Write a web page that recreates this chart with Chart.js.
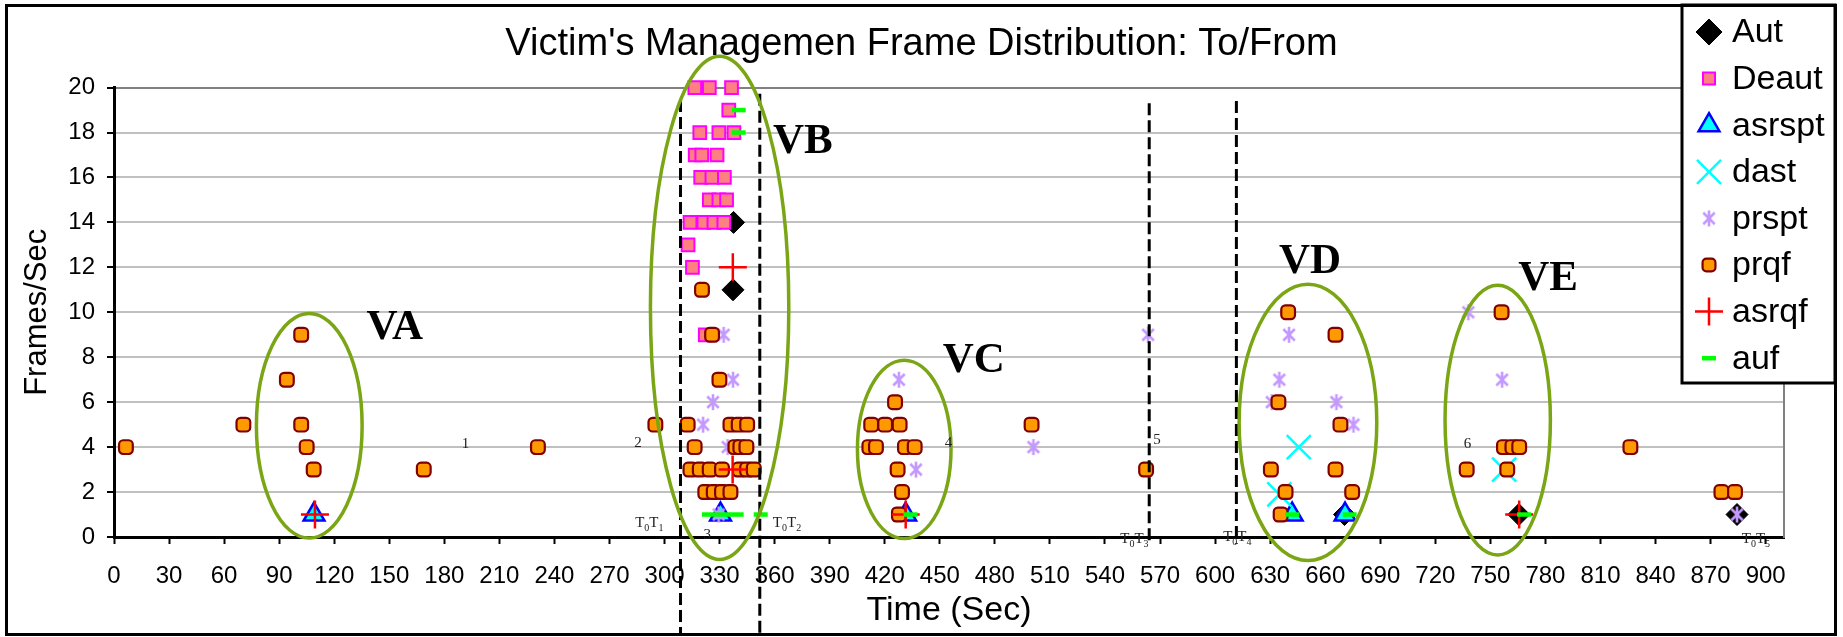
<!DOCTYPE html>
<html>
<head>
<meta charset="utf-8">
<title>Victim's Managemen Frame Distribution: To/From</title>
<script src="https://cdn.jsdelivr.net/npm/chart.js@4.4.1/dist/chart.umd.min.js"></script>
<style>
  html, body { margin: 0; padding: 0; background: #fff; }
  #wrap { width: 1843px; height: 637px; }
</style>
</head>
<body>
<div id="wrap"><canvas id="frames" width="1843" height="637"></canvas></div>
<script>
// ---- values (time in sec, frames per sec) ----
var timeTicks = [0, 30, 60, 90, 120, 150, 180, 210, 240, 270, 300, 330, 360, 390, 420, 450,
                 480, 510, 540, 570, 600, 630, 660, 690, 720, 750, 780, 810, 840, 870, 900];
var rateTicks = [0, 2, 4, 6, 8, 10, 12, 14, 16, 18, 20];

var autTime = [337.6, 337.3, 670.5, 765.5, 884.4];
var autRate = [14, 11, 1, 1, 1];

var deautTime = [316.5, 324.4, 336.5, 335.0, 319.2, 329.6, 337.8, 316.7, 320.3, 328.6, 319.7, 325.8,
                 332.6, 324.4, 329.6, 333.8, 313.9, 321.4, 326.9, 332.3, 312.8, 315.2, 322.2, 338.5];
var deautRate = [20, 20, 20, 19, 18, 18, 18, 17, 17, 17, 16, 16,
                 16, 15, 15, 15, 14, 14, 14, 14, 13, 12, 9, 5];

var asrsptTime = [109, 330.5, 431.4, 642, 670.8];
var asrsptRate = [1, 1, 1, 1, 1];

var dastTime = [645.6, 635, 757.5];
var dastRate = [4, 1.9, 3];

var prsptTime = [332.2, 337.3, 326.4, 321, 334.4, 329.5, 427.7, 437, 501, 563.5,
                 640.3, 635, 630.9, 666.1, 675.4, 738, 756.4, 827.2, 875.9, 884.4];
var prsptRate = [9, 7, 6, 5, 4, 1, 7, 3, 4, 9,
                 9, 7, 6, 6, 5, 10, 7, 4, 2, 1];

var prqfTime = [6.5, 70.5, 94.2, 102, 102, 105, 108.8, 168.8, 231,
                295, 312.6, 335.9, 340.4, 345, 316.4, 338.6, 341.3, 344.6,
                314.1, 319.2, 324.6, 331.3, 341, 345, 348.6, 322.2, 326.8, 331.3, 335.9, 325.9, 329.9, 320.4,
                425.6, 412.6, 420.2, 428.1, 411.6, 415.2, 431, 436.3, 427, 429.4, 427.7, 500, 562.4,
                639.8, 665.6, 634.5, 668.3, 630.4, 665.6, 638.4, 674.7, 635.7,
                756.1, 757.4, 762, 765.7, 737.1, 759.2, 826.3, 875.9, 883.3];
var prqfRate = [4, 5, 7, 9, 5, 4, 3, 3, 4,
                5, 5, 5, 5, 5, 4, 4, 4, 4,
                3, 3, 3, 3, 3, 3, 3, 2, 2, 2, 2, 9, 7, 11,
                6, 5, 5, 5, 4, 4, 4, 4, 3, 2, 1, 5, 3,
                10, 9, 6, 5, 3, 3, 2, 2, 1,
                10, 4, 4, 4, 3, 3, 4, 2, 2];

var asrqfTime = [109.5, 337.2, 337.1, 431.4, 765.7];
var asrqfRate = [1, 12, 3, 1, 1];

var aufTime = [340.4, 340.4, 324.2, 331.9, 339.3, 352.4, 434, 642.1, 673.3, 768.4];
var aufRate = [19, 18, 1, 1, 1, 1, 1, 1, 1, 1];

// circled victim regions (centre, half extents, label spot) in axis units
var areaName  = ['VA', 'VB', 'VC', 'VD', 'VE'];
var areaTime  = [106.4, 330, 430.6, 650.6, 754];
var areaRate  = [4.95, 10.2, 3.9, 5.1, 5.2];
var areaHalfT = [28.8, 37.7, 25.5, 37.5, 28.7];
var areaHalfR = [5.0, 11.2, 3.97, 6.15, 6.0];
var areaLabelTime = [153, 375.4, 468.5, 651.7, 781.5];
var areaLabelRate = [9.3, 17.6, 7.85, 12.25, 11.5];

// dashed phase markers
var phaseTime   = [308.7, 351.9, 564.1, 611.6];
var phaseTop    = [19.45, 19.73, 19.3, 19.4];
var phaseBottom = [-4.3, -4.3, -0.35, -0.3];

var tagIndex = ['1', '2', '3', '4', '5'];
var tagTime  = [284, 359, 548.3, 604.4, 887];
var tagRate  = [0.45, 0.45, -0.25, -0.17, -0.25];

var noteText = ['1', '2', '3', '4', '5', '6'];
var noteTime = [191.6, 285.5, 323.2, 454.7, 568.4, 737.5];
var noteRate = [4.15, 4.2, 0.1, 4.2, 4.3, 4.15];

// ---- drawing ----
var SANS = "'Liberation Sans', Arial, sans-serif";
var SERIF = "'Liberation Serif', 'Times New Roman', serif";
Chart.defaults.font.family = SANS;
Chart.defaults.color = '#000';

function pairs(xs, ys) {
  return xs.map(function(v, i) { return {x: v, y: ys[i]}; });
}

// excel style asterisk marker
function asterisk(size, color, lw) {
  var c = document.createElement('canvas');
  c.width = size; c.height = size;
  var g = c.getContext('2d');
  var m = size / 2, a = m - 1, d = a * 0.72;
  g.strokeStyle = color;
  g.lineWidth = lw;
  g.beginPath();
  g.moveTo(m, m - a); g.lineTo(m, m + a);
  g.moveTo(m - d, m - d); g.lineTo(m + d, m + d);
  g.moveTo(m + d, m - d); g.lineTo(m - d, m + d);
  g.stroke();
  return c;
}

var looks = [
  {label: 'Aut',    pts: pairs(autTime, autRate),       style: 'rectRot',     bg: '#000000', line: '#000000', r: 11,  lr: 13,  bw: 1},
  {label: 'Deaut',  pts: pairs(deautTime, deautRate),   style: 'rect',        bg: '#FF8080', line: '#FF00FF', r: 9,   lr: 8.5, bw: 2},
  {label: 'asrspt', pts: pairs(asrsptTime, asrsptRate), style: 'triangle',    bg: '#00FFFF', line: '#0000FF', r: 12,  lr: 12,  bw: 2.5},
  {label: 'dast',   pts: pairs(dastTime, dastRate),     style: 'crossRot',    bg: '#00FFFF', line: '#00FFFF', r: 17,  lr: 17,  bw: 2.5},
  {label: 'prspt',  pts: pairs(prsptTime, prsptRate),   style: asterisk(18, '#C499FF', 2.6), bg: '#C499FF', line: '#C499FF', r: 8, lr: 8, bw: 2},
  {label: 'prqf',   pts: pairs(prqfTime, prqfRate),     style: 'rectRounded', bg: '#FF9900', line: '#800000', r: 8,   lr: 7.5, bw: 2.2},
  {label: 'asrqf',  pts: pairs(asrqfTime, asrqfRate),   style: 'cross',       bg: '#FF0000', line: '#FF0000', r: 14,  lr: 14,  bw: 2.5},
  {label: 'auf',    pts: pairs(aufTime, aufRate),       style: 'line',        bg: '#00FF00', line: '#00FF00', r: 7,   lr: 7,   bw: 4.5}
];

var datasets = looks.map(function(s, i) {
  return {
    label: s.label,
    data: s.pts,
    showLine: false,
    pointStyle: s.style,
    pointRadius: s.r,
    pointBackgroundColor: s.bg,
    pointBorderColor: s.line,
    pointBorderWidth: s.bw,
    order: looks.length - i,
    clip: false
  };
});

var overlay = {
  id: 'overlay',
  afterDatasetsDraw: function(chart) {
    var ctx = chart.ctx, x = chart.scales.x, y = chart.scales.y;
    ctx.save();

    // phase lines
    ctx.strokeStyle = '#000';
    ctx.lineWidth = 3;
    ctx.setLineDash([12, 5]);
    phaseTime.forEach(function(t, i) {
      var px = x.getPixelForValue(t);
      ctx.beginPath();
      ctx.moveTo(px, y.getPixelForValue(phaseTop[i]));
      ctx.lineTo(px, y.getPixelForValue(phaseBottom[i]));
      ctx.stroke();
    });
    ctx.setLineDash([]);

    // circled regions
    areaName.forEach(function(name, i) {
      var cx = x.getPixelForValue(areaTime[i]);
      var cy = y.getPixelForValue(areaRate[i]);
      var rx = Math.abs(x.getPixelForValue(areaTime[i] + areaHalfT[i]) - cx);
      var ry = Math.abs(y.getPixelForValue(areaRate[i] + areaHalfR[i]) - cy);
      ctx.strokeStyle = '#7AA514';
      ctx.lineWidth = 3.5;
      ctx.beginPath();
      ctx.ellipse(cx, cy, rx, ry, 0, 0, Math.PI * 2);
      ctx.stroke();

      ctx.fillStyle = '#000';
      ctx.font = 'bold 43px ' + SERIF;
      ctx.textAlign = 'center';
      ctx.textBaseline = 'middle';
      ctx.fillText(name, x.getPixelForValue(areaLabelTime[i]), y.getPixelForValue(areaLabelRate[i]));
    });

    // small numbers
    ctx.fillStyle = '#222';
    ctx.font = '15px ' + SERIF;
    noteText.forEach(function(t, i) {
      ctx.fillText(t, x.getPixelForValue(noteTime[i]), y.getPixelForValue(noteRate[i]));
    });

    // T0Tn tags
    ctx.textAlign = 'left';
    ctx.textBaseline = 'alphabetic';
    tagIndex.forEach(function(n, i) {
      var px = x.getPixelForValue(tagTime[i]);
      var py = y.getPixelForValue(tagRate[i]);
      [['T', 15, 0], ['0', 10, 4], ['T', 15, 0], [n, 10, 4]].forEach(function(p) {
        ctx.font = p[1] + 'px ' + SERIF;
        ctx.fillText(p[0], px, py + p[2]);
        px += ctx.measureText(p[0]).width;
      });
    });
    ctx.restore();
  },
  afterDraw: function(chart) {
    var ctx = chart.ctx;
    ctx.save();
    // legend box
    var lx = 1682, ly = 5, lw = 153, lh = 378;
    ctx.fillStyle = '#fff';
    ctx.fillRect(lx, ly, lw, lh);
    ctx.strokeStyle = '#000';
    ctx.lineWidth = 3;
    ctx.strokeRect(lx, ly, lw, lh);
    looks.forEach(function(s, i) {
      var cy = 32 + i * 46.6;
      ctx.fillStyle = s.bg;
      ctx.strokeStyle = s.line;
      ctx.lineWidth = s.bw;
      if (Chart.helpers && Chart.helpers.drawPoint) {
        Chart.helpers.drawPoint(ctx, {pointStyle: s.style, rotation: 0, radius: s.lr, borderWidth: s.bw}, 1709, cy);
      }
      ctx.fillStyle = '#000';
      ctx.font = '34px ' + SANS;
      ctx.textAlign = 'left';
      ctx.textBaseline = 'middle';
      ctx.fillText(s.label, 1732, cy + 1);
    });
    // outer frame
    ctx.strokeStyle = '#000';
    ctx.lineWidth = 3;
    ctx.strokeRect(6.5, 5.5, 1829, 629);
    ctx.restore();
  }
};

new Chart(document.getElementById('frames'), {
  type: 'scatter',
  data: {datasets: datasets},
  options: {
    responsive: false,
    animation: false,
    events: [],
    layout: {padding: 0},
    plugins: {
      legend: {display: false},
      tooltip: {enabled: false},
      title: {
        display: true,
        text: "Victim's Managemen Frame Distribution: To/From",
        color: '#000',
        font: {size: 38, weight: 'normal'},
        padding: {top: 22, bottom: 20}
      }
    },
    scales: {
      x: {
        type: 'linear',
        position: 'bottom',
        min: 0,
        max: 910,
        afterBuildTicks: function(s) { s.ticks = timeTicks.map(function(v) { return {value: v}; }); },
        afterFit: function(s) { s.height = 100; s.paddingLeft = 0; s.paddingRight = 0; },
        ticks: {font: {size: 24}, padding: 18, maxRotation: 0, autoSkip: false},
        grid: {drawOnChartArea: false, drawTicks: true, tickLength: 7, tickColor: '#000', tickWidth: 2},
        border: {color: '#000', width: 3},
        title: {display: true, text: 'Time (Sec)', font: {size: 34}, padding: {top: 0, bottom: 6}}
      },
      y: {
        type: 'linear',
        position: 'left',
        min: 0,
        max: 20,
        afterBuildTicks: function(s) { s.ticks = rateTicks.map(function(v) { return {value: v}; }); },
        afterFit: function(s) { s.width = 114; s.paddingTop = 0; s.paddingBottom = 0; },
        ticks: {font: {size: 24}, padding: 12},
        grid: {
          color: function(c) {
            if (!c.tick) return '#C0C0C0';
            if (c.tick.value === 20) return '#808080';
            if (c.tick.value === 0) return 'rgba(0,0,0,0)';
            return '#C0C0C0';
          },
          lineWidth: 2,
          tickLength: 7,
          tickColor: '#000',
          tickWidth: 2
        },
        border: {color: '#000', width: 3},
        title: {display: true, text: 'Frames/Sec', font: {size: 31}, padding: {top: 19, bottom: 0}}
      },
      y2: {
        type: 'linear',
        position: 'right',
        min: 0,
        max: 20,
        ticks: {display: false},
        grid: {drawOnChartArea: false, drawTicks: false},
        border: {display: true, color: '#808080', width: 2},
        afterFit: function(s) { s.width = 59; s.paddingTop = 0; s.paddingBottom = 0; }
      }
    }
  },
  plugins: [overlay]
});
</script>
</body>
</html>
